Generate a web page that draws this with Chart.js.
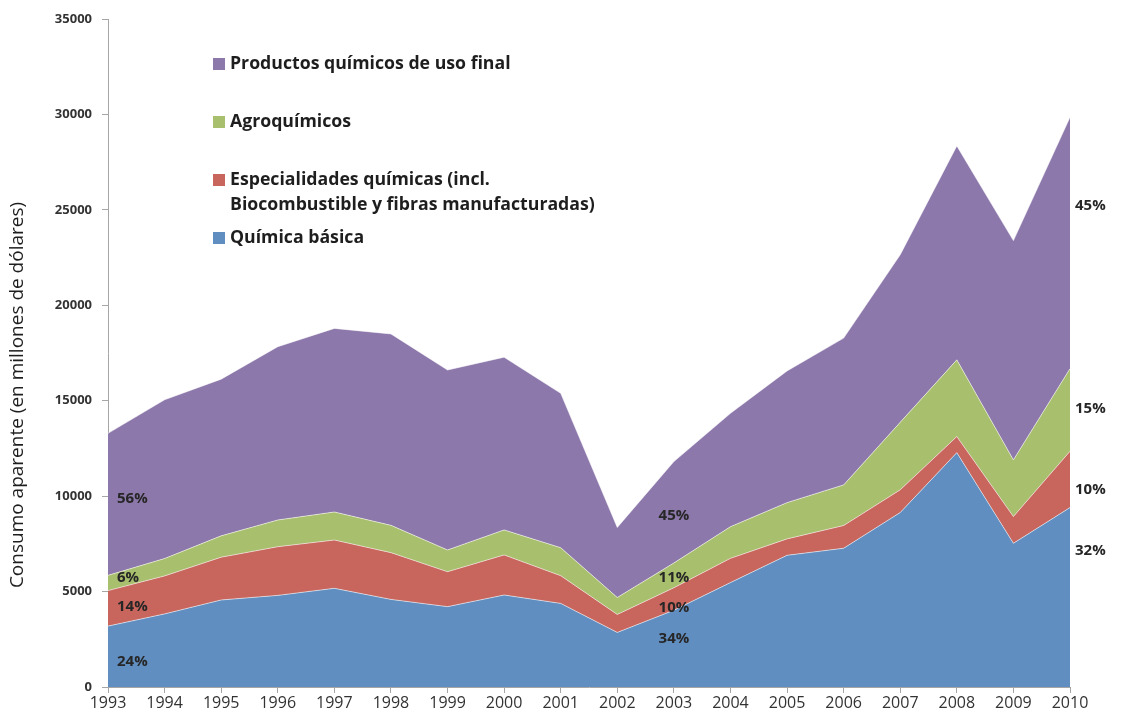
<!DOCTYPE html>
<html>
<head>
<meta charset="utf-8">
<script src="https://cdn.jsdelivr.net/npm/chart.js"></script>
<style>
  html, body { margin: 0; padding: 0; background: #fff; }
  #wrap { width: 1123px; height: 719px; }
</style>
</head>
<body>
<div id="wrap"><canvas id="consumoChart" width="1123" height="719"></canvas></div>
<script>
// Consumo aparente por segmento, millones de dólares
const years = ['1993', '1994', '1995', '1996', '1997', '1998', '1999', '2000', '2001',
               '2002', '2003', '2004', '2005', '2006', '2007', '2008', '2009', '2010'];
const quimicaBasica  = [3190, 3830, 4560, 4800, 5170, 4590, 4210, 4820, 4380, 2860, 4020, 5470, 6900, 7270, 9140, 12280, 7530, 9400];
const especialidades = [1860, 1990, 2240, 2550, 2530, 2450, 1830, 2100, 1450, 940, 1180, 1270, 860, 1190, 1190, 840, 1400, 2950];
const agroquimicos   = [800, 910, 1120, 1400, 1470, 1430, 1140, 1310, 1470, 890, 1300, 1660, 1900, 2130, 3540, 4020, 2970, 4330];
const usoFinal       = [7440, 8320, 8210, 9080, 9620, 10030, 9430, 9050, 8090, 3670, 5310, 5940, 6900, 7690, 8780, 11210, 11490, 13170];

// participación de cada segmento (básica, especialidades, agro, uso final)
const shares1993 = ['24%', '14%', '6%', '56%'];
const shares2003 = ['34%', '10%', '11%', '45%'];
const shares2010 = ['32%', '10%', '15%', '45%'];

const seriesNames = [
  'Química básica',
  'Especialidades químicas (incl.\nBiocombustible y fibras manufacturadas)',
  'Agroquímicos',
  'Productos químicos de uso final'
];
const yTitle = 'Consumo aparente (en millones de dólares)';
const colors = ['#608ec0', '#c8655c', '#a8bf6d', '#8d78ab'];
const textFont = '"Open Sans", "Noto Sans", sans-serif';

function areaSet(i, values) {
  return {
    label: seriesNames[i],
    data: values,
    backgroundColor: colors[i],
    borderColor: 'rgba(255,255,255,0.55)',
    borderWidth: 1,
    pointRadius: 0,
    tension: 0,
    fill: i === 0 ? 'origin' : '-1'
  };
}

// percentage labels placed inside each band of a given year
const shareLabels = {
  id: 'shareLabels',
  afterDatasetsDraw(chart) {
    const { ctx, scales: { x, y } } = chart;
    const groups = [
      { idx: 0,  texts: shares1993, align: 'left',   dx: 9,  pos: [0.41, 0.54, 0.82, 0.54] },
      { idx: 10, texts: shares2003, align: 'center', dx: 0,  pos: [0.63, 0.10, 0.39, 0.47] },
      { idx: 17, texts: shares2010, align: 'left',   dx: 5,  pos: [0.76, 0.31, 0.52, 0.65] }
    ];
    ctx.save();
    ctx.font = 'bold 15px ' + textFont;
    ctx.fillStyle = '#262626';
    ctx.textBaseline = 'middle';
    groups.forEach(g => {
      let base = 0;
      chart.data.datasets.forEach((ds, k) => {
        const v = ds.data[g.idx];
        const val = base + v * g.pos[k];
        base += v;
        ctx.textAlign = g.align;
        ctx.fillText(g.texts[k], x.getPixelForValue(g.idx) + g.dx, y.getPixelForValue(val));
      });
    });
    ctx.restore();
  }
};

// legend inside the plot area (top series first) and the vertical axis title
const insideLegend = {
  id: 'insideLegend',
  afterDraw(chart) {
    const { ctx } = chart;
    const rows = [64, 122, 180, 238];
    const order = [3, 2, 1, 0];
    ctx.save();
    ctx.font = 'bold 17.7px ' + textFont;
    ctx.textBaseline = 'middle';
    ctx.textAlign = 'left';
    order.forEach((k, r) => {
      const ds = chart.data.datasets[k];
      ctx.fillStyle = ds.backgroundColor;
      ctx.fillRect(213, rows[r] - 6, 12, 12);
      ctx.fillStyle = '#1e1e1e';
      ds.label.split('\n').forEach((line, j) => {
        ctx.fillText(line, 230, rows[r] + j * 25);
      });
    });

    ctx.translate(18, 395);
    ctx.rotate(-Math.PI / 2);
    ctx.font = '19px ' + textFont;
    ctx.fillStyle = '#1e1e1e';
    ctx.textAlign = 'center';
    ctx.fillText(yTitle, 0, 0);
    ctx.restore();
  }
};

new Chart(document.getElementById('consumoChart'), {
  type: 'line',
  data: {
    labels: years,
    datasets: [
      areaSet(0, quimicaBasica),
      areaSet(1, especialidades),
      areaSet(2, agroquimicos),
      areaSet(3, usoFinal)
    ]
  },
  options: {
    responsive: false,
    animation: false,
    layout: { padding: { top: 19, right: 53, left: 0, bottom: 0 } },
    plugins: {
      legend: { display: false },
      tooltip: { enabled: false }
    },
    scales: {
      x: {
        offset: false,
        grid: { display: true, drawOnChartArea: false, drawTicks: true, tickLength: 6, color: '#a6a6a6' },
        border: { color: '#a6a6a6' },
        ticks: { color: '#333', font: { family: textFont, size: 16 }, padding: 1, maxRotation: 0, autoSkip: false },
        afterFit(scale) { scale.height = 32; }
      },
      y: {
        stacked: true,
        min: 0,
        max: 35000,
        grid: { display: true, drawOnChartArea: false, drawTicks: true, tickLength: 6, color: '#a6a6a6' },
        border: { color: '#a6a6a6' },
        ticks: {
          stepSize: 5000,
          color: '#333',
          font: { family: textFont, size: 13, weight: 'bold' },
          padding: 10,
          callback: v => String(v)
        },
        afterFit(scale) { scale.width = 108; }
      }
    }
  },
  plugins: [shareLabels, insideLegend]
});
</script>
</body>
</html>
